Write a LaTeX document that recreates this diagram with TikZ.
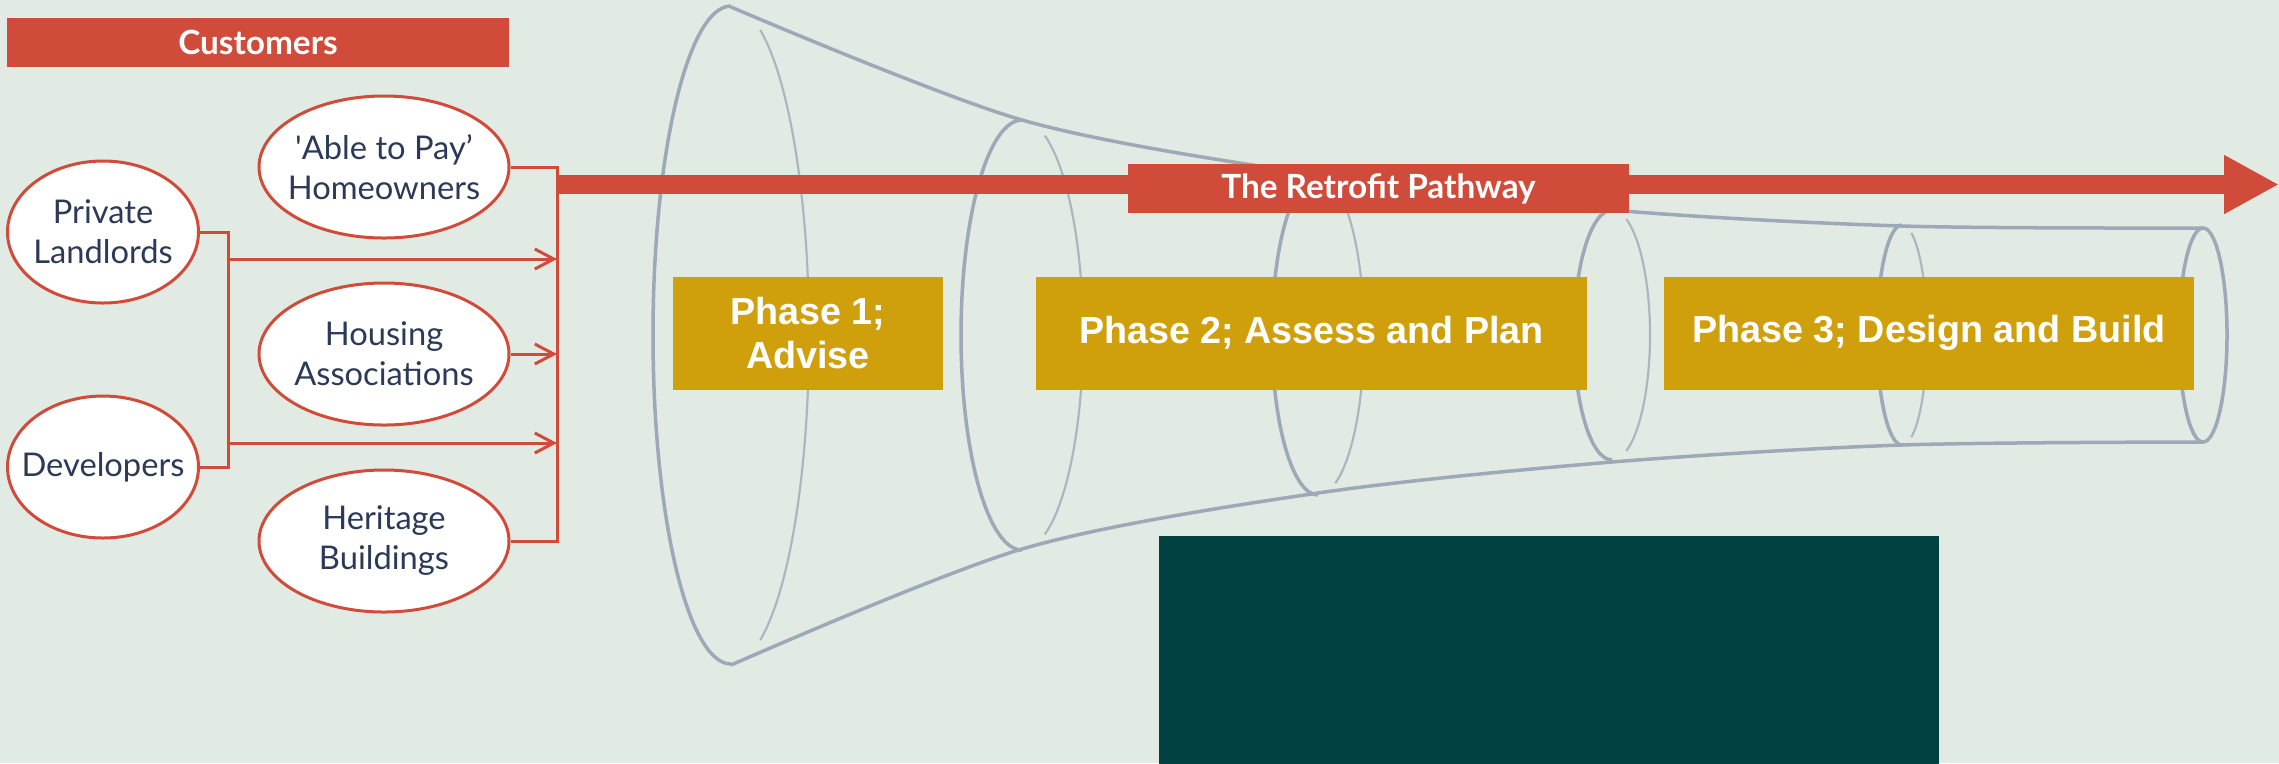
\documentclass[tikz,border=0pt]{standalone}
\usepackage{fontspec}
\usetikzlibrary{shapes.geometric,arrows.meta}
\newfontfamily\latofont{Lato}
\newfontfamily\arialfont{Liberation Sans}
\definecolor{bgcol}{HTML}{E1EAE3}
\definecolor{redcol}{HTML}{D14B3B}
\definecolor{goldcol}{HTML}{CFA00C}
\definecolor{navycol}{HTML}{2C3A57}
\definecolor{funnelcol}{HTML}{9DA9B6}
\definecolor{tealcol}{HTML}{004041}
\begin{document}
\begin{tikzpicture}[x=0.3pt,y=-0.3pt]
        \tikzstyle{customer}=[ellipse,draw=redcol,line width=0.9pt,fill=white,inner xsep=-6pt,inner ysep=0pt,minimum height=42.6pt,align=center,text=navycol,font=\latofont\fontsize{9.8}{12}\selectfont]
        \tikzstyle{banner}=[rectangle,fill=redcol,text=white,inner sep=0pt,minimum height=14.7pt,font=\latofont\bfseries\fontsize{10}{12}\selectfont]
        \tikzstyle{phase}=[rectangle,fill=goldcol,text=white,inner sep=0pt,minimum height=33.9pt,align=center,font=\arialfont\bfseries\fontsize{11.3}{13.4}\selectfont]
        \tikzstyle{link}=[draw=redcol,line width=0.9pt]
        \tikzstyle{ring}=[draw=funnelcol,line width=1.05pt]
        \tikzstyle{ringback}=[draw=funnelcol!85,line width=0.65pt]
        \useasboundingbox (0,0) rectangle (2279,763);
        \fill[bgcol] (0,0) rectangle (2279,763);
       \begin{scope}
         \draw[ring] plot[smooth] coordinates {(731,7) (1022,120) (1318,175) (1612,210) (1902,226) (2203,228)};
         \draw[ring] plot[smooth] coordinates {(731,665) (1022,549) (1318,493) (1612,462) (1902,445) (2203,442)};
         \foreach \cx/\rx/\ry in {731/78/329, 1022/61/215, 1318/46/160, 1612/38/125, 1902/25/110} {
           \draw[ring] (\cx,335) ++(90:{\rx} and {\ry}) arc[start angle=90,end angle=270,x radius=\rx,y radius=\ry];
           \draw[ringback] (\cx,335) ++(68:{\rx} and {\ry}) arc[start angle=68,end angle=-68,x radius=\rx,y radius=\ry];
         }
         \draw[ring] (2203,335) ellipse[x radius=24,y radius=107];
        \end{scope}
       \begin{scope}
         \node [banner,minimum width=150.6pt] (customers) at (258,42.5) {Customers};
         \node [customer,minimum width=57.3pt] (landlords) at (103,232) {Private\\Landlords};
         \node [customer,minimum width=57.3pt] (developers) at (103,467) {Developers};
         \node [customer,minimum width=75pt] (able) at (384,167) {\textquotesingle Able to Pay’\\Homeowners};
         \node [customer,minimum width=75pt] (housing) at (384,354) {Housing\\Associations};
         \node [customer,minimum width=75pt] (heritage) at (384,541) {Heritage\\Buildings};
         \coordinate (jtop) at (557,167);
         \coordinate (jbot) at (557,541);
         \coordinate (bktop) at (228,232);
         \coordinate (bkbot) at (228,467);
         \coordinate (fa) at (228,259);
         \coordinate (fd) at (228,443);
         \coordinate (ja) at (557,259);
         \coordinate (jh) at (557,354);
         \coordinate (jd) at (557,443);
         \draw[link] (able.east) -- (jtop) -- (jbot) -- (heritage.east);
         \draw[link] (landlords.east) -- (bktop) -- (bkbot) -- (developers.east);
         \draw[link,-{Straight Barb[length=5.7pt,width=6pt]}] (fa) -- (ja);
         \draw[link,-{Straight Barb[length=5.7pt,width=6pt]}] (housing.east) -- (jh);
         \draw[link,-{Straight Barb[length=5.7pt,width=6pt]}] (fd) -- (jd);
        \end{scope}
       \begin{scope}
         \coordinate (pstart) at (557,184.5);
         \coordinate (pend) at (2279,184.5);
         \draw[redcol,line width=5.7pt,-{Triangle[length=16.5pt,width=16.5pt]}] (pstart) -- (pend);
         \node [banner,minimum width=150.3pt] (pathway) at (1378.5,188.5) {The Retrofit Pathway};
         \node [phase,minimum width=81pt] (phase1) at (808,333) {Phase 1;\\Advise};
         \node [phase,minimum width=165.3pt] (phase2) at (1311.5,333) {Phase 2; Assess and Plan};
         \node [phase,minimum width=159pt] (phase3) at (1929,333) {Phase 3; Design and Build};
         \node [rectangle,fill=tealcol,inner sep=0pt,minimum width=234pt,minimum height=68.4pt] (tealbox) at (1549,650) {};
        \end{scope}
      \end{tikzpicture}
\end{document}
